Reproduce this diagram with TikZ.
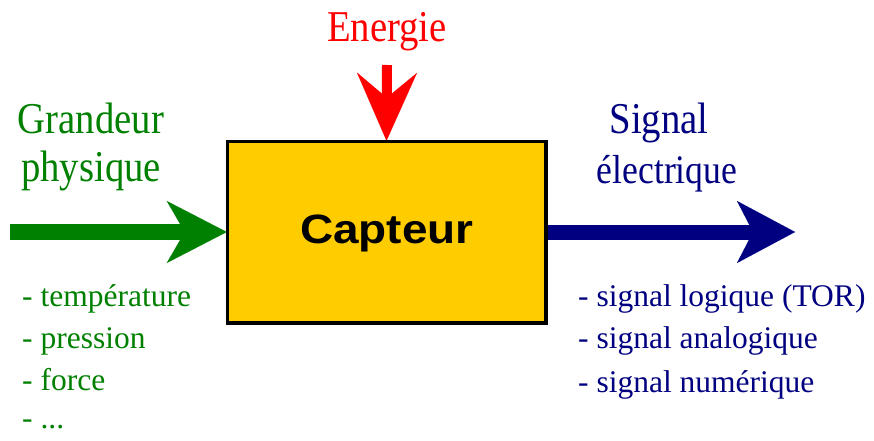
\documentclass[tikz,border=0pt]{standalone}
\usepackage{fontspec}
\setmainfont{Liberation Serif}
\newfontfamily\hdfont[FakeStretch=0.88]{Liberation Serif}
\newfontfamily\capfont[FakeStretch=1.12]{Liberation Sans}
\usetikzlibrary{arrows.meta}
\definecolor{cgreen}{RGB}{0,128,0}
\definecolor{cnavy}{RGB}{0,0,128}
\definecolor{cred}{RGB}{255,0,0}
\definecolor{cgold}{RGB}{255,204,0}
\begin{document}
\begin{tikzpicture}[x=1pt,y=-1pt,
 heading/.style={font=\hdfont\fontsize{44}{48}\selectfont, anchor=base, inner sep=0pt},
 listitem/.style={font=\fontsize{31.5}{36}\selectfont, anchor=base west, inner sep=0pt},
 capbox/.style={draw=black, line width=2.5pt, fill=cgold, minimum width=317pt, minimum height=180pt, inner sep=0pt}
 ]
\useasboundingbox (0,0) rectangle (874,441);
\node[capbox] (box) at (386.5,232) {};
\coordinate (gs) at (10,232);
\coordinate (be) at (795,232);
\coordinate (rs) at (387,65);
\draw[cgreen, line width=16pt, -{Stealth[length=60pt,width=62pt,inset=18pt,line width=0.01pt]}] (gs) -- (box.west);
\draw[cnavy, line width=15pt, -{Stealth[length=58pt,width=62pt,inset=16pt,line width=0.01pt]}] (box.east) -- (be);
\draw[cred, line width=10pt, -{Stealth[length=68pt,width=60pt,inset=25pt,line width=0.01pt]}] (rs) -- (box.north);
\draw[black, line width=2.5pt] (box.north west) rectangle (box.south east);
\node[font=\capfont\bfseries\fontsize{41}{44}\selectfont, anchor=base, inner sep=0pt] (cap) at (387,243) {Capteur};
\node[heading, text=cred] (en) at (387,42) {Energie};
\node[heading, text=cgreen] (g1) at (91,133) {Grandeur};
\node[heading, text=cgreen] (g2) at (91,181) {physique};
\node[heading, text=cnavy] (s1) at (659,133) {Signal};
\node[heading, text=cnavy, font=\hdfont\fontsize{40.5}{44}\selectfont] (s2) at (667,183) {électrique};
\node[listitem, text=cgreen] (l1) at (22,306) {- température};
\node[listitem, text=cgreen] (l2) at (22,348) {- pression};
\node[listitem, text=cgreen] (l3) at (22,390) {- force};
\node[listitem, text=cgreen] (l4) at (22,428) {- ...};
\node[listitem, text=cnavy] (r1) at (578,306) {- signal logique (TOR)};
\node[listitem, text=cnavy] (r2) at (578,348) {- signal analogique};
\node[listitem, text=cnavy] (r3) at (578,392) {- signal numérique};
\end{tikzpicture}
\end{document}
